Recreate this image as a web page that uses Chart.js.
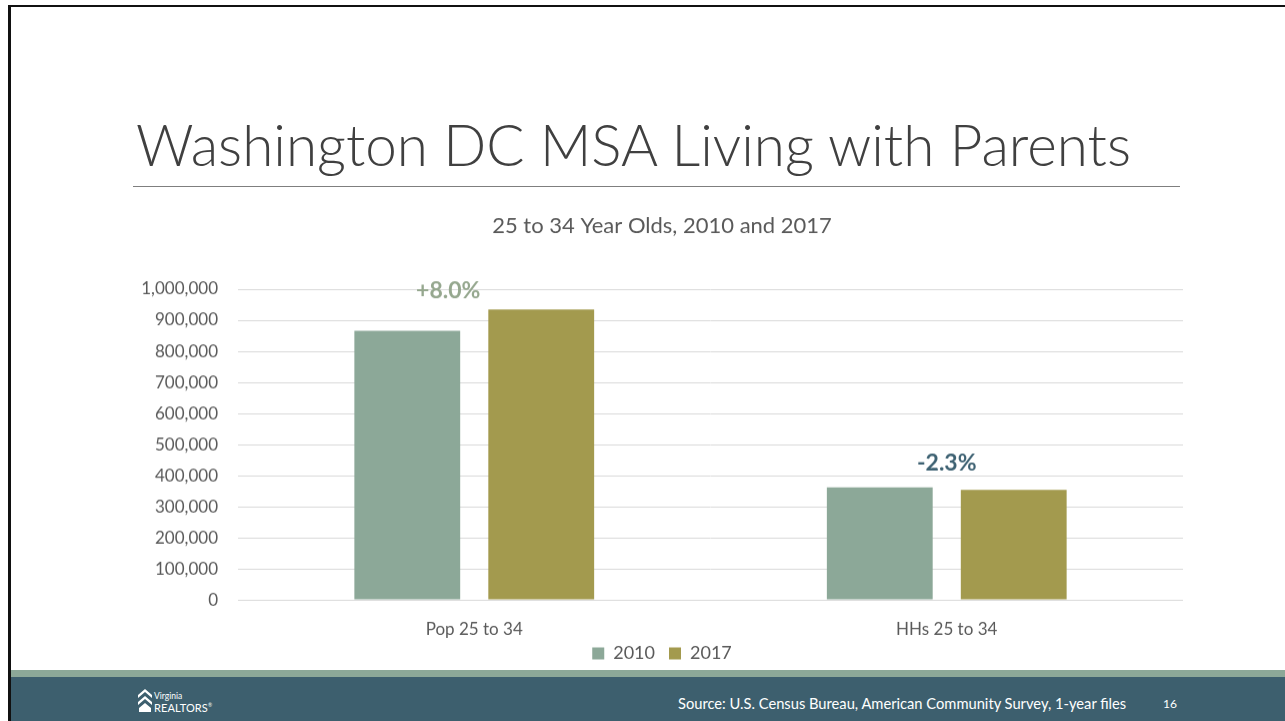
<!DOCTYPE html>
<html>
<head>
<meta charset="utf-8">
<script src="https://cdn.jsdelivr.net/npm/chart.js@4.4.0/dist/chart.umd.min.js"></script>
<style>
  html, body { margin: 0; padding: 0; background: #fff; }
  body { width: 1285px; height: 721px; position: relative; overflow: hidden; font-family: Lato, "Open Sans", sans-serif; }
  .frameTop { position: absolute; left: 8px; top: 5px; width: 1277px; height: 2px; background: #111; }
  .frameLeft { position: absolute; left: 8px; top: 5px; width: 3px; height: 716px; background: #111; }
  .title { position: absolute; left: 136px; top: 109px; font-size: 56.6px; font-weight: 300; color: #404040; white-space: nowrap; line-height: 70px; }
  .rule { position: absolute; left: 133px; top: 186px; width: 1047px; height: 1px; background: #7f7f7f; }
  #wrap { position: absolute; left: 100px; top: 205px; width: 1083px; height: 487.5px; }
  .band1 { position: absolute; left: 11px; top: 670px; width: 1274px; height: 7px; background: #8ca898; }
  .band2 { position: absolute; left: 11px; top: 677px; width: 1274px; height: 44px; background: #3d5f6e; }
  .source { position: absolute; left: 678px; top: 694px; font-size: 14.7px; color: #fff; white-space: nowrap; }
  .page { position: absolute; left: 1163px; top: 696px; font-size: 12px; color: #fff; }
  .logo { position: absolute; left: 138px; top: 689px; color: #fff; }
  .logo .icon { position: absolute; left: 0; top: 0; width: 14px; height: 23px; }
  .logo .t1 { position: absolute; left: 16px; top: 2px; font-size: 8.5px; white-space: nowrap; }
  .logo .t2 { position: absolute; left: 16px; top: 12px; font-size: 11px; white-space: nowrap; letter-spacing: 0.1px; }
</style>
</head>
<body>
<div class="frameTop"></div>
<div class="frameLeft"></div>
<div class="title">Washington DC MSA Living with Parents</div>
<div class="rule"></div>
<div id="wrap"><canvas id="chart"></canvas></div>
<div class="band1"></div>
<div class="band2"></div>
<div class="logo">
  <svg class="icon" viewBox="0 0 14 23"><path d="M0 6 L7 0 L14 6 L14 9 L7 3 L0 9 Z M0 13 L7 7 L14 13 L14 16 L7 10 L0 16 Z M1 19 L7 14 L13 19 L13 23 L1 23 Z" fill="#fff"/></svg>
  <div class="t1">Virginia</div>
  <div class="t2">REALTORS<sup style="font-size:5px">®</sup></div>
</div>
<div class="source">Source: U.S. Census Bureau, American Community Survey, 1-year files</div>
<div class="page">16</div>

<script>
const categories = ['Pop 25 to 34', 'HHs 25 to 34'];
const values2010 = [866000, 362000];
const values2017 = [935000, 354000];
const changeLabels = ['+8.0%', '-2.3%'];
const changeColors = ['#95a78e', '#3d6172'];
const yTicks = [0, 100000, 200000, 300000, 400000, 500000, 600000, 700000, 800000, 900000, 1000000];

const font = 'Lato, "Open Sans", sans-serif';

const changePlugin = {
  id: 'changeLabels',
  afterDatasetsDraw(chart) {
    const ctx = chart.ctx;
    const x = chart.scales.x, y = chart.scales.y;
    ctx.save();
    ctx.font = 'bold 23px ' + font;
    ctx.textAlign = 'center';
    ctx.textBaseline = 'middle';
    changeLabels.forEach((lbl, i) => {
      const top = Math.max(values2010[i], values2017[i]);
      const shift = i === 0 ? -26 : 0;
      ctx.fillStyle = changeColors[i];
      ctx.fillText(lbl, x.getPixelForValue(i) + shift, y.getPixelForValue(top) - (i === 0 ? 19 : 24));
    });
    ctx.restore();
  }
};

// pull the legend up closer to the category labels
const legendNudge = {
  id: 'legendNudge',
  afterLayout(chart) {
    if (chart.legend) {
      chart.legend.top -= 21;
      chart.legend.bottom -= 21;
    }
  }
};

new Chart(document.getElementById('chart'), {
  type: 'bar',
  data: {
    labels: categories,
    datasets: [
      { label: '2010', data: values2010, backgroundColor: '#8ca898' },
      { label: '2017', data: values2017, backgroundColor: '#a39a4e' }
    ]
  },
  options: {
    responsive: true,
    maintainAspectRatio: false,
    animation: false,
    layout: { padding: { left: 41, right: 0, top: 0, bottom: 0 } },
    datasets: { bar: { categoryPercentage: 0.567, barPercentage: 0.79 } },
    plugins: {
      title: {
        display: true,
        text: '25 to 34 Year Olds, 2010 and 2017',
        color: '#595959',
        font: { family: font, size: 22, weight: 'normal' },
        padding: { top: 8, bottom: 49.6 }
      },
      legend: {
        position: 'bottom',
        labels: {
          color: '#595959',
          font: { family: font, size: 18 },
          boxWidth: 12,
          boxHeight: 12,
          padding: 14
        }
      },
      tooltip: { enabled: false }
    },
    scales: {
      x: {
        grid: { display: false },
        border: { color: '#d9d9d9' },
        ticks: { color: '#595959', font: { family: font, size: 17 }, padding: 11.5 }
      },
      y: {
        min: 0,
        max: 1000000,
        afterBuildTicks(axis) { axis.ticks = yTicks.map(v => ({ value: v })); },
        afterFit(axis) { axis.width = 97; },
        grid: { color: '#d9d9d9', drawTicks: false },
        border: { display: false },
        ticks: {
          color: '#595959',
          font: { family: font, size: 17 },
          padding: 20,
          callback: v => v.toLocaleString('en-US')
        }
      }
    }
  },
  plugins: [changePlugin, legendNudge]
});
</script>
</body>
</html>
